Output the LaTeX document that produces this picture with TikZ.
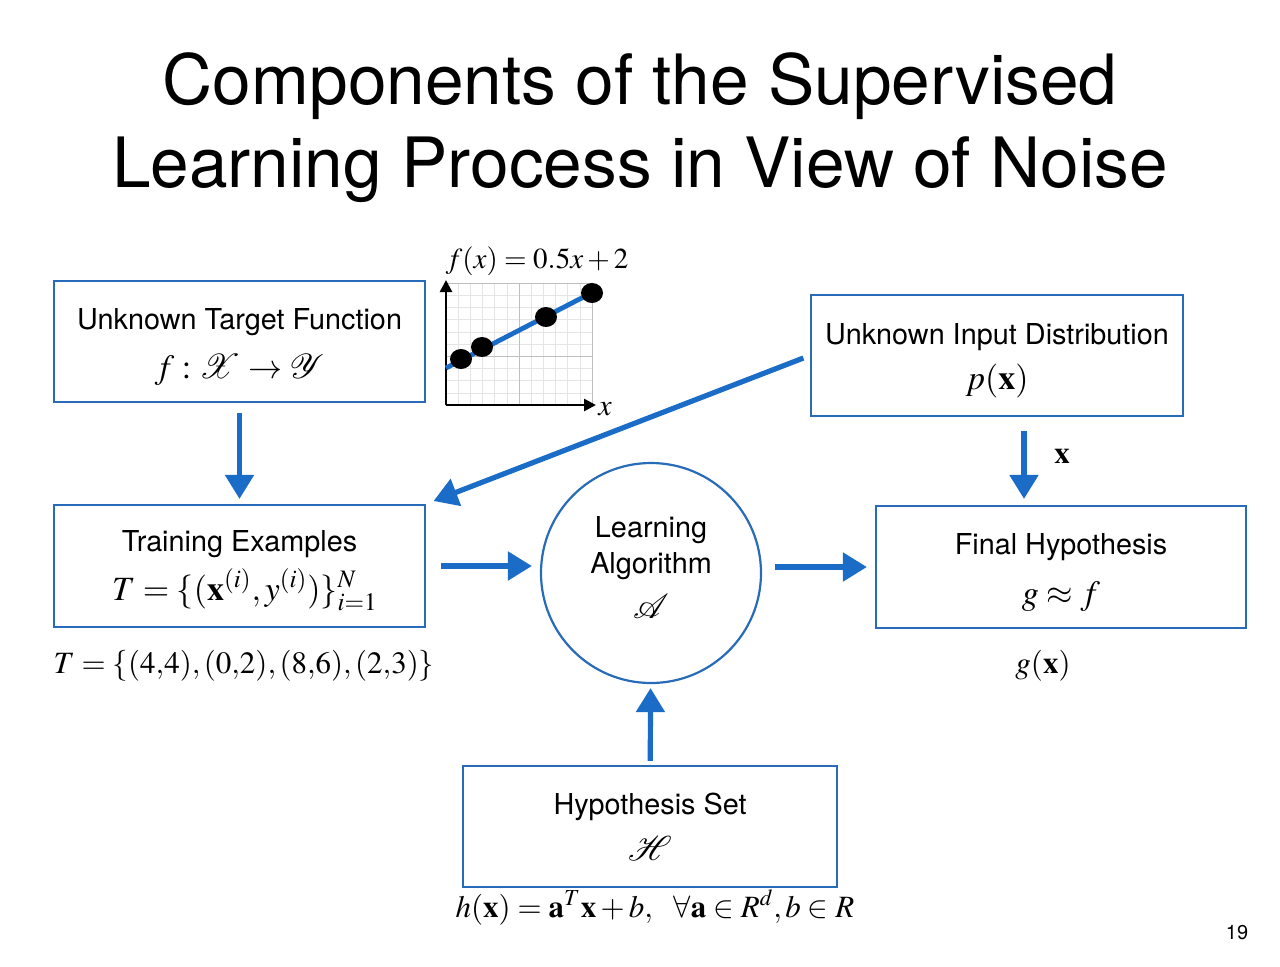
\documentclass[tikz,border=0pt]{standalone}
\usepackage{mathptmx}
\usepackage{mathrsfs}
\usepackage[no-math]{fontspec}
\setmainfont{TeX Gyre Heros}
\usetikzlibrary{arrows.meta,shapes.geometric}
\definecolor{bblue}{RGB}{40,108,185}
\definecolor{ablue}{RGB}{26,108,198}
\tikzset{
  box/.style={draw=bblue, line width=1.1pt, inner sep=0pt, minimum height=60.5pt},
  lbl/.style={inner sep=0pt, anchor=base, font=\fontsize{14.4}{17}\selectfont},
  fml/.style={inner sep=0pt, anchor=base, font=\fontsize{17}{20}\selectfont},
  sml/.style={inner sep=0pt, anchor=base, font=\fontsize{15.5}{19}\selectfont},
  ttl/.style={inner sep=0pt, anchor=base, font=\fontsize{34.7}{40}\selectfont},
  arr/.style={draw=ablue, line width=2.6pt, -{Triangle[length=12pt,width=14pt]}},
}
\begin{document}
\begin{tikzpicture}[x=0.5pt,y=-0.5pt]
\useasboundingbox[fill=white] (0,0) rectangle (1280,966);

% title
\node[ttl] (t1) at (640,104) {Components of the Supervised};
\node[ttl] (t2) at (640,187) {Learning Process in View of Noise};

% boxes
\node[box, minimum width=185.5pt] (utf) at (239.5,341.5) {};
\node[lbl] (utf1) at (239.5,329) {Unknown Target Function};
\node[fml] (utf2) at (239.5,378) {$f:\mathscr{X}\rightarrow\mathscr{Y}$};

\node[box, minimum width=186pt] (uid) at (997,355.5) {};
\node[lbl] (uid1) at (997,344) {Unknown Input Distribution};
\node[fml] (uid2) at (997,389) {$p(\mathbf{x})$};

\node[box, minimum width=185.5pt, minimum height=61pt] (te) at (239.5,566) {};
\node[lbl] (te1) at (239.5,551) {Training Examples};
\node[fml] (te2) at (245,600) {$T=\{(\mathbf{x}^{(i)},y^{(i)})\}_{i=1}^{N}$};

\node[draw=bblue, line width=1.1pt, circle, minimum size=110pt, inner sep=0pt] (la) at (651,573) {};
\node[lbl] (la1) at (651,537) {Learning};
\node[lbl] (la2) at (651,573) {Algorithm};
\node[fml] (la3) at (651,618) {$\mathscr{A}$};

\node[box, minimum width=185pt, minimum height=61pt] (fh) at (1061,567) {};
\node[lbl] (fh1) at (1061,554) {Final Hypothesis};
\node[fml] (fh2) at (1061,604) {$g\approx f$};

\node[box, minimum width=187pt] (hs) at (650,826.5) {};
\node[lbl] (hs1) at (650,814) {Hypothesis Set};
\node[fml] (hs2) at (650,860) {$\mathscr{H}$};

% extra labels
\node[sml] (tset) at (244,673) {$T=\{(4{,}4),(0{,}2),(8{,}6),(2{,}3)\}$};
\node[sml] (gx) at (1043,673) {$g(\mathbf{x})$};
\node[sml] (hx) at (655,917) {$h(\mathbf{x})=\mathbf{a}^{T}\mathbf{x}+b,\ \ \forall\mathbf{a}\in R^{d},b\in R$};
\node[sml] (xl) at (1062,463) {$\mathbf{x}$};
\node[inner sep=0pt, anchor=base, font=\fontsize{10}{12}\selectfont] (pg) at (1237,939) {19};

% small graph
\begin{scope}
  \foreach \i in {0,...,12} {
    \draw[black!10, line width=0.3pt] (446+\i*12.17,283) -- (446+\i*12.17,405);
  }
  \foreach \j in {0,...,10} {
    \draw[black!10, line width=0.3pt] (446,283+\j*12.2) -- (592,283+\j*12.2);
  }
  \draw[black!25, line width=0.5pt] (519,283) -- (519,405);
  \draw[black!25, line width=0.5pt] (446,356) -- (592,356);
  \draw[black!25, line width=0.5pt] (592,283) -- (592,405);
  \draw[black!25, line width=0.5pt] (446,283) -- (592,283);
\end{scope}
\coordinate (ax0) at (446,405);
\coordinate (axy) at (446,280);
\coordinate (axx) at (596,405);
\draw[line width=1.3pt, -{Triangle[length=6pt,width=6pt]}] (ax0) -- (axy);
\draw[line width=1.3pt, -{Triangle[length=6pt,width=6pt]}] (ax0) -- (axx);
\coordinate (fl0) at (446,368);
\coordinate (fl1) at (601,288);
\draw[ablue, line width=2.4pt] (fl0) -- (fl1);
\foreach \px/\py [count=\k] in {461/359, 482/347, 546/317, 592/293} {
  \node[fill=black, ellipse, minimum width=11pt, minimum height=10pt, inner sep=0pt] (d\k) at (\px,\py) {};
}
\node[inner sep=0pt, anchor=base, font=\fontsize{14.5}{17}\selectfont] (fx) at (537,268) {$f(x)=0.5x+2$};
\node[inner sep=0pt, anchor=base, font=\fontsize{15}{17}\selectfont] (xlab) at (605,415) {$x$};

% arrows
\coordinate (xcol) at (1024,0);
\draw[arr, shorten <=5pt, shorten >=2.5pt] (utf) -- (te);
\draw[arr, shorten <=3.5pt, shorten >=4pt] (uid.west) -- (te.north east);
\draw[arr, shorten <=7pt, shorten >=3pt] (uid.south -| xcol) -- (fh.north -| xcol);
\draw[arr, shorten <=7.5pt, shorten >=4pt] (te.east) -- (te.east -| la.west);
\draw[arr, shorten <=6.5pt, shorten >=4pt] (fh.west -| la.east) -- (fh.west);
\draw[arr, shorten <=2pt, shorten >=2pt] (hs) -- (la);
\end{tikzpicture}
\end{document}
